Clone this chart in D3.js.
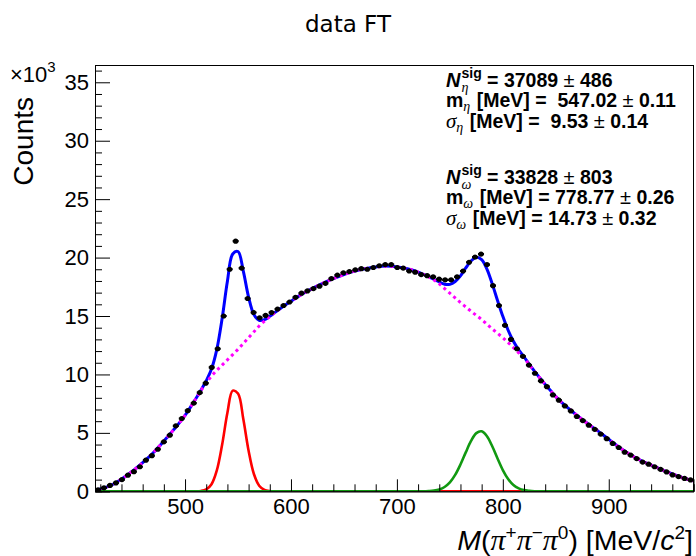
<!DOCTYPE html>
<html><head><meta charset="utf-8">
<script src="https://cdn.jsdelivr.net/npm/d3@7"></script>
<style>body{margin:0;background:#fff}text{white-space:pre}</style>
</head><body>
<svg id="c" width="696" height="556"></svg>
<script>
// ---------------- data (counts in units of 10^3) ----------------
const massLo = 415, massHi = 980, binWidth = 5.65;
const dataCounts = [
  0.12, 0.30, 0.50, 0.72, 1.00, 1.38, 1.68, 2.10, 2.66, 3.05,
  3.60, 4.23, 4.80, 5.60, 6.23, 6.90, 7.55, 8.45, 9.25, 10.60,
  12.20, 15.00, 19.00, 21.40, 19.10, 16.50, 15.30, 14.85, 15.05, 15.30,
  15.60, 15.90, 16.20, 16.60, 16.95, 17.15, 17.35, 17.55, 17.80, 18.20,
  18.50, 18.70, 18.80, 18.95, 19.05, 19.00, 19.15, 19.30, 19.40, 19.40,
  19.15, 19.10, 18.85, 18.75, 18.55, 18.45, 18.35, 18.15, 18.10, 18.10,
  18.35, 18.85, 19.60, 20.05, 20.30, 19.40, 17.60, 15.90, 14.20, 13.00,
  12.20, 11.55, 10.80, 10.10, 9.45, 8.95, 8.25, 7.80, 7.31, 6.88,
  6.40, 6.05, 5.66, 5.30, 4.90, 4.50, 4.10, 3.75, 3.35, 3.10,
  2.80, 2.50, 2.32, 2.10, 1.88, 1.66, 1.40, 1.26, 1.10, 0.97
];
// background curve sampled every 5 MeV from 415 to 980
const bkgCounts = [
  0.05, 0.20, 0.33, 0.50, 0.75, 1.05, 1.36, 1.70, 2.06, 2.45,
  2.86, 3.30, 3.78, 4.30, 4.81, 5.35, 5.90, 6.50, 7.18, 7.90,
  8.62, 9.30, 9.85, 10.35, 10.80, 11.25, 11.70, 12.15, 12.65, 13.15,
  13.65, 14.15, 14.57, 14.95, 15.31, 15.65, 15.96, 16.25, 16.56, 16.85,
  17.11, 17.35, 17.58, 17.80, 18.01, 18.20, 18.38, 18.55, 18.71, 18.85,
  18.96, 19.05, 19.13, 19.20, 19.25, 19.27, 19.25, 19.20, 19.13, 19.05,
  18.92, 18.75, 18.56, 18.35, 18.08, 17.75, 17.35, 16.95, 16.55, 16.15,
  15.78, 15.40, 15.05, 14.70, 14.30, 13.90, 13.52, 13.15, 12.73, 12.30,
  11.85, 11.40, 10.83, 10.25, 9.70, 9.15, 8.62, 8.10, 7.66, 7.25,
  6.87, 6.50, 6.14, 5.80, 5.47, 5.15, 4.80, 4.45, 4.10, 3.75,
  3.44, 3.15, 2.89, 2.65, 2.44, 2.25, 2.05, 1.85, 1.66, 1.48,
  1.31, 1.15, 1.01, 0.89
];
const etaMass   = [510, 515, 520, 525, 530, 535, 540, 545, 550, 555, 560, 565, 570, 575, 580, 585];
const etaCounts = [0, 0.03, 0.16, 0.61, 1.79, 3.98, 6.72, 8.61, 8.37, 6.19, 3.47, 1.48, 0.48, 0.12, 0.02, 0];
const omegaMass   = [725, 730, 735, 740, 745, 750, 755, 760, 765, 770, 775, 780, 785, 790, 795, 800, 805, 810, 815, 820, 825, 830, 835];
const omegaCounts = [0, 0.02, 0.06, 0.16, 0.37, 0.76, 1.40, 2.29, 3.33, 4.31, 4.98, 5.13, 4.71, 3.85, 2.81, 1.82, 1.05, 0.54, 0.25, 0.10, 0.04, 0.01, 0];
const xMajorTicks = [500, 600, 700, 800, 900];
const yMajorTicks = [0, 5, 10, 15, 20, 25, 30, 35];
const statBlocks = [
  [
    {sym: "N", sub: "η", val: " = 37089 ", err: " 486"},
    {sym: "m", sub: "η", val: " [MeV] =  547.02 ", err: " 0.11"},
    {sym: "σ", sub: "η", val: " [MeV] =  9.53 ", err: " 0.14"}
  ],
  [
    {sym: "N", sub: "ω", val: " = 33828 ", err: " 803"},
    {sym: "m", sub: "ω", val: " [MeV] = 778.77 ", err: " 0.26"},
    {sym: "σ", sub: "ω", val: " [MeV] = 14.73 ", err: " 0.32"}
  ]
];

// ---------------- layout ----------------
const svg = d3.select("#c");
const L = 95, R = 693.5, T = 65, B = 491.3;
const x = d3.scaleLinear().domain([massLo, massHi]).range([L, R]);
const y = d3.scaleLinear().domain([0, 36.48]).range([B, T]);
const SANS = "'Liberation Sans', Arial, Helvetica, sans-serif";
const SERIF = "'Liberation Serif', 'Times New Roman', serif";

svg.append("rect").attr("width", 696).attr("height", 556).attr("fill", "#fff");
svg.append("defs").append("clipPath").attr("id", "clip")
  .append("rect").attr("x", L).attr("y", T).attr("width", R - L).attr("height", B - T);

// title
svg.append("text").attr("x", 348).attr("y", 32).attr("text-anchor", "middle")
  .attr("font-family", "'DejaVu Sans', sans-serif").attr("font-size", 23).text("data FT");

// curves
const curveMass = bkgCounts.map((d, i) => massLo + 5 * i);
function lookup(ms, vs, m) { const k = ms.indexOf(m); return k < 0 ? 0 : vs[k]; }
const etaFull = curveMass.map(m => lookup(etaMass, etaCounts, m));
const omegaFull = curveMass.map(m => lookup(omegaMass, omegaCounts, m));
const totalFull = curveMass.map((m, i) => bkgCounts[i] + etaFull[i] + omegaFull[i]);

const line = d3.line().x(d => x(d[0])).y(d => y(d[1])).curve(d3.curveCatmullRom.alpha(0.5));
const gC = svg.append("g").attr("clip-path", "url(#clip)").attr("fill", "none");
function draw(vals, color, w, dash) {
  const p = gC.append("path").datum(curveMass.map((m, i) => [m, vals[i]]))
    .attr("d", line).attr("stroke", color).attr("stroke-width", w).attr("stroke-linejoin", "round");
  if (dash) p.attr("stroke-dasharray", dash);
}
draw(totalFull, "#0000ff", 3);
draw(bkgCounts, "#ff00ff", 3, "3,3.5");
draw(etaFull, "#ff0000", 2.6);
draw(omegaFull, "#119911", 2.6);

// data points (on top)
const centers = dataCounts.map((d, i) => massLo + binWidth * (i + 0.5));
const gData = svg.append("g").attr("clip-path", "url(#clip)");
dataCounts.forEach((v, i) => {
  const c = centers[i];
  const e = Math.sqrt(v * 1000) / 1000;
  gData.append("line").attr("x1", x(c - binWidth / 2)).attr("x2", x(c + binWidth / 2))
    .attr("y1", y(v)).attr("y2", y(v)).attr("stroke", "#000").attr("stroke-width", 2.2);
  gData.append("line").attr("x1", x(c)).attr("x2", x(c))
    .attr("y1", y(v - e)).attr("y2", y(v + e)).attr("stroke", "#000").attr("stroke-width", 2);
  gData.append("circle").attr("cx", x(c)).attr("cy", y(v)).attr("r", 2.6).attr("fill", "#000");
});

// axes
const gAx = svg.append("g").attr("font-family", SANS);
gAx.append("line").attr("x1", L).attr("x2", R).attr("y1", T + 0.5).attr("y2", T + 0.5).attr("stroke", "#000");
gAx.append("line").attr("x1", R).attr("x2", R).attr("y1", T).attr("y2", B).attr("stroke", "#000");

const yMinor = d3.range(0, 37).filter(v => v % 5 !== 0);
gAx.append("g").attr("transform", `translate(${L},0)`)
  .call(d3.axisLeft(y).tickValues(yMajorTicks).tickSize(-15).tickPadding(6).tickFormat(d3.format("d")));
gAx.append("g").attr("transform", `translate(${L},0)`)
  .call(d3.axisLeft(y).tickValues(yMinor).tickSize(-7).tickFormat(""));
const xMinor = d3.range(420, 981, 20).filter(v => v % 100 !== 0);
gAx.append("g").attr("transform", `translate(0,${B})`)
  .call(d3.axisBottom(x).tickValues(xMajorTicks).tickSize(-12).tickPadding(7).tickFormat(d3.format("d")));
gAx.append("g").attr("transform", `translate(0,${B})`)
  .call(d3.axisBottom(x).tickValues(xMinor).tickSize(-7).tickFormat(""));
gAx.selectAll(".domain").attr("stroke", "#000");
gAx.selectAll(".tick line").attr("stroke", "#000");
gAx.selectAll(".tick text").attr("font-size", 22).attr("font-family", SANS).attr("fill", "#000");

// exponent
const ex = svg.append("text").attr("x", 10).attr("y", 82).attr("font-family", SANS).attr("font-size", 22);
ex.append("tspan").text("×10");
ex.append("tspan").attr("dy", -10).attr("font-size", 15).text("3");

// y title
svg.append("text").attr("transform", "translate(33,97) rotate(-90)").attr("text-anchor", "end")
  .attr("font-family", SANS).attr("font-size", 28).text("Counts");

// x title as one text element, right-aligned at x = 693
const xt = svg.append("text").attr("x", 693).attr("y", 550).attr("text-anchor", "end")
  .attr("font-family", SANS).attr("font-size", 28.5);
const xtParts = [
  {t: "M", italic: true}, {t: "("},
  {t: "π", pi: true}, {t: "+", sup: true},
  {t: "π", pi: true}, {t: "−", sup: true},
  {t: "π", pi: true}, {t: "0", sup: true},
  {t: ") [MeV/"}, {t: "c", italic: true}, {t: "2", sup: true}, {t: "]"}
];
let prevSup = false;
xtParts.forEach(p => {
  const ts = xt.append("tspan").text(p.t);
  if (p.sup) { ts.attr("dy", -11).attr("font-size", 19); }
  else if (prevSup) { ts.attr("dy", 11); }
  if (p.pi) ts.attr("font-family", SERIF).attr("font-style", "italic").attr("font-size", 30);
  if (p.italic) ts.attr("font-style", "italic");
  prevSup = !!p.sup;
});

// fit results: one text element per block
const blockBaselines = [[87, 107, 128], [184, 204, 225]];
statBlocks.forEach((block, bi) => {
  const tx = svg.append("text").attr("font-family", SANS).attr("font-size", 19.5).attr("font-weight", "bold");
  block.forEach((s, li) => {
    const yb = blockBaselines[bi][li];
    if (s.sym === "N") tx.append("tspan").attr("x", 446).attr("y", yb).attr("font-style", "italic").attr("font-size", 20).text("N");
    else if (s.sym === "m") tx.append("tspan").attr("x", 446).attr("y", yb).text("m");
    else tx.append("tspan").attr("x", 446).attr("y", yb).attr("font-family", SERIF).attr("font-style", "italic")
      .attr("font-weight", "normal").attr("font-size", 21).text("σ");
    if (s.sym === "N") {
      const sup = tx.append("tspan").attr("dx", 1).attr("dy", -9).attr("font-size", 14).text("sig");
      const wSup = sup.node().getComputedTextLength();
      const sub = tx.append("tspan").attr("dx", -wSup).attr("dy", 14).attr("font-family", SERIF)
        .attr("font-style", "italic").attr("font-weight", "normal").attr("font-size", 14).text(s.sub);
      const wSub = sub.node().getComputedTextLength();
      tx.append("tspan").attr("dx", Math.max(0, wSup - wSub)).attr("dy", -5).text(s.val);
    } else {
      tx.append("tspan").attr("dy", 4).attr("font-family", SERIF).attr("font-style", "italic")
        .attr("font-weight", "normal").attr("font-size", 14).text(s.sub);
      tx.append("tspan").attr("dx", 1).attr("dy", -4).text(s.val);
    }
    tx.append("tspan").attr("font-weight", "normal").attr("font-size", 20).text("±");
    tx.append("tspan").text(s.err);
  });
});
</script>
</body></html>
